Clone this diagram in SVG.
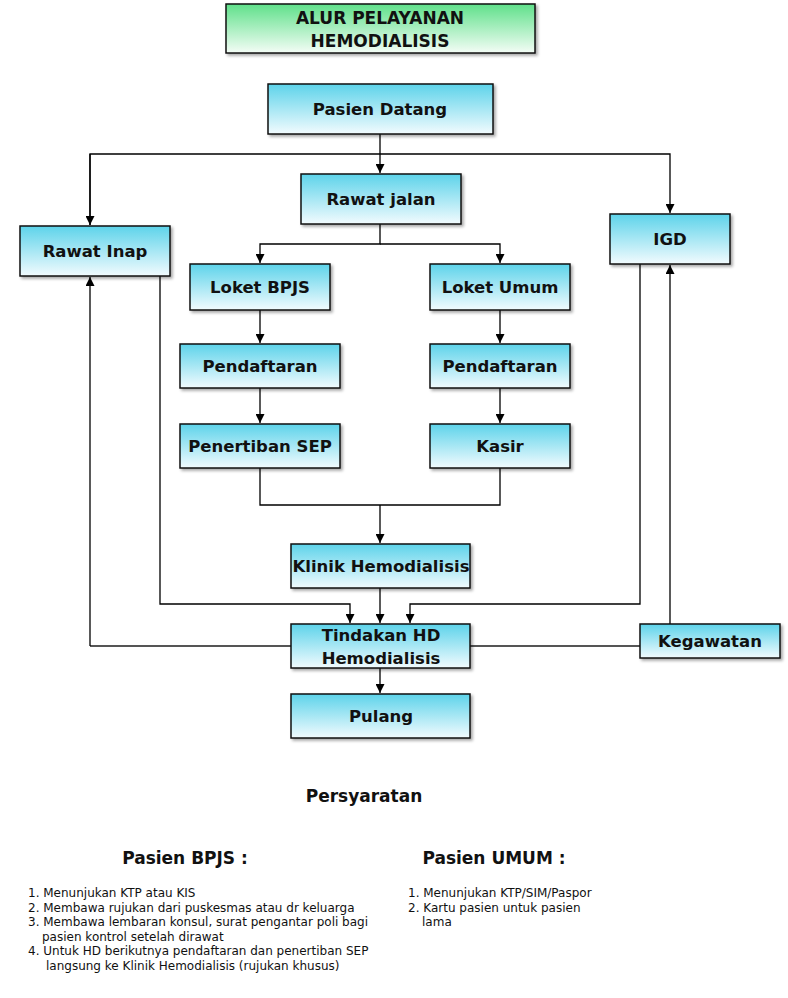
<svg xmlns="http://www.w3.org/2000/svg" width="788" height="998" viewBox="0 0 788 998">
<defs>
<linearGradient id="gBlue" x1="0" y1="0" x2="0" y2="1">
<stop offset="0" stop-color="#5dd3ea"/>
<stop offset="1" stop-color="#f2fbfe"/>
</linearGradient>
<linearGradient id="gGreen" x1="0" y1="0" x2="0" y2="1">
<stop offset="0" stop-color="#5fe08a"/>
<stop offset="1" stop-color="#f4fdf6"/>
</linearGradient>
<filter id="sh" x="-10%" y="-10%" width="125%" height="140%">
<feDropShadow dx="2" dy="2" stdDeviation="1.5" flood-color="#000" flood-opacity="0.35"/>
</filter>
<marker id="arr" viewBox="0 0 10 10" refX="10" refY="5" markerWidth="9" markerHeight="9" markerUnits="userSpaceOnUse" orient="auto">
<path d="M0,0 L10,5 L0,10 z" fill="#000"/>
</marker>
</defs>
<style>
.box{fill:url(#gBlue);stroke:#111;stroke-width:1.5;filter:url(#sh)}
.tbox{fill:url(#gGreen);stroke:#111;stroke-width:1.5;filter:url(#sh)}
.lbl{font-family:"DejaVu Sans","Liberation Sans",sans-serif;font-weight:bold;font-size:16.5px;fill:#111;text-anchor:middle}
.tt{font-size:17px}
.c{fill:none;stroke:#000;stroke-width:1.3}
.g{fill:none;stroke:#555;stroke-width:1.8}
.h{font-family:"DejaVu Sans","Liberation Sans",sans-serif;font-weight:bold;font-size:17px;fill:#111}
.s{font-family:"DejaVu Sans","Liberation Sans",sans-serif;font-size:12px;fill:#111}
</style>
<rect width="788" height="998" fill="#fff"/>
<g id="connectors">
<path class="c" d="M380,134 V173" marker-end="url(#arr)"/>
<path class="c" d="M90,225 V154 H670 V213" marker-end="url(#arr)"/>
<path class="c" d="M90,154 V225" marker-end="url(#arr)"/>
<path class="c" d="M380,224 V244 H260 V263" marker-end="url(#arr)"/>
<path class="c" d="M380,244 H500 V263" marker-end="url(#arr)"/>
<path class="c" d="M260,310 V343" marker-end="url(#arr)"/>
<path class="c" d="M260,388 V423" marker-end="url(#arr)"/>
<path class="c" d="M500,310 V343" marker-end="url(#arr)"/>
<path class="c" d="M500,388 V423" marker-end="url(#arr)"/>
<path class="c" d="M260,468 V505 H500 V468"/>
<path class="c" d="M380,505 V543" marker-end="url(#arr)"/>
<path class="c" d="M380,588 V623" marker-end="url(#arr)"/>
<path class="c" d="M160,276 V604 H350 V623" marker-end="url(#arr)"/>
<path class="c" d="M640,264 V604 H410 V623" marker-end="url(#arr)"/>
<path class="g" d="M291,646 H90"/>
<path class="c" d="M90,646 V277" marker-end="url(#arr)"/>
<path class="g" d="M470,646 H640"/>
<path class="c" d="M670,624 V265" marker-end="url(#arr)"/>
<path class="c" d="M380,668 V693" marker-end="url(#arr)"/>
</g>
<g id="title">
<rect class="tbox" x="226" y="4" width="309" height="49"/>
<text class="lbl tt" x="380" y="24">ALUR PELAYANAN</text>
<text class="lbl tt" x="380" y="47">HEMODIALISIS</text>
</g>
<g id="pasien-datang">
<rect class="box" x="268" y="84" width="225" height="50"/>
<text class="lbl" x="380" y="115">Pasien Datang</text>
</g>
<g id="rawat-jalan">
<rect class="box" x="301" y="174" width="160" height="50"/>
<text class="lbl" x="381" y="205">Rawat jalan</text>
</g>
<g id="rawat-inap">
<rect class="box" x="20" y="226" width="150" height="50"/>
<text class="lbl" x="95" y="257">Rawat Inap</text>
</g>
<g id="igd">
<rect class="box" x="610" y="214" width="120" height="50"/>
<text class="lbl" x="670" y="245">IGD</text>
</g>
<g id="loket-bpjs">
<rect class="box" x="190" y="264" width="140" height="46"/>
<text class="lbl" x="260" y="293">Loket BPJS</text>
</g>
<g id="loket-umum">
<rect class="box" x="430" y="264" width="140" height="46"/>
<text class="lbl" x="500" y="293">Loket Umum</text>
</g>
<g id="pendaftaran-bpjs">
<rect class="box" x="180" y="344" width="160" height="44"/>
<text class="lbl" x="260" y="372">Pendaftaran</text>
</g>
<g id="pendaftaran-umum">
<rect class="box" x="430" y="344" width="140" height="44"/>
<text class="lbl" x="500" y="372">Pendaftaran</text>
</g>
<g id="penertiban-sep">
<rect class="box" x="180" y="424" width="160" height="44"/>
<text class="lbl" x="260" y="452">Penertiban SEP</text>
</g>
<g id="kasir">
<rect class="box" x="430" y="424" width="140" height="44"/>
<text class="lbl" x="500" y="452">Kasir</text>
</g>
<g id="klinik-hemodialisis">
<rect class="box" x="291" y="544" width="179" height="44"/>
<text class="lbl" x="381" y="572">Klinik Hemodialisis</text>
</g>
<g id="tindakan-hd">
<rect class="box" x="291" y="624" width="179" height="44"/>
<text class="lbl" x="381" y="641">Tindakan HD</text>
<text class="lbl" x="381" y="664">Hemodialisis</text>
</g>
<g id="kegawatan">
<rect class="box" x="640" y="624" width="140" height="34"/>
<text class="lbl" x="710" y="647">Kegawatan</text>
</g>
<g id="pulang">
<rect class="box" x="291" y="694" width="179" height="44"/>
<text class="lbl" x="381" y="722">Pulang</text>
</g>
<g id="persyaratan">
<text class="h" x="364" y="802" text-anchor="middle">Persyaratan</text>
<text class="h" x="185" y="864" text-anchor="middle">Pasien BPJS :</text>
<text class="h" x="494" y="864" text-anchor="middle">Pasien UMUM :</text>
<text class="s" x="28" y="897">1. Menunjukan KTP atau KIS</text>
<text class="s" x="28" y="912">2. Membawa rujukan dari puskesmas atau dr keluarga</text>
<text class="s" x="28" y="926">3. Membawa lembaran konsul, surat pengantar poli bagi</text>
<text class="s" x="42" y="941">pasien kontrol setelah dirawat</text>
<text class="s" x="28" y="955">4. Untuk HD berikutnya pendaftaran dan penertiban SEP</text>
<text class="s" x="46" y="970">langsung ke Klinik Hemodialisis (rujukan khusus)</text>
<text class="s" x="408" y="897">1. Menunjukan KTP/SIM/Paspor</text>
<text class="s" x="408" y="912">2. Kartu pasien untuk pasien</text>
<text class="s" x="422" y="926">lama</text>
</g>
</svg>
